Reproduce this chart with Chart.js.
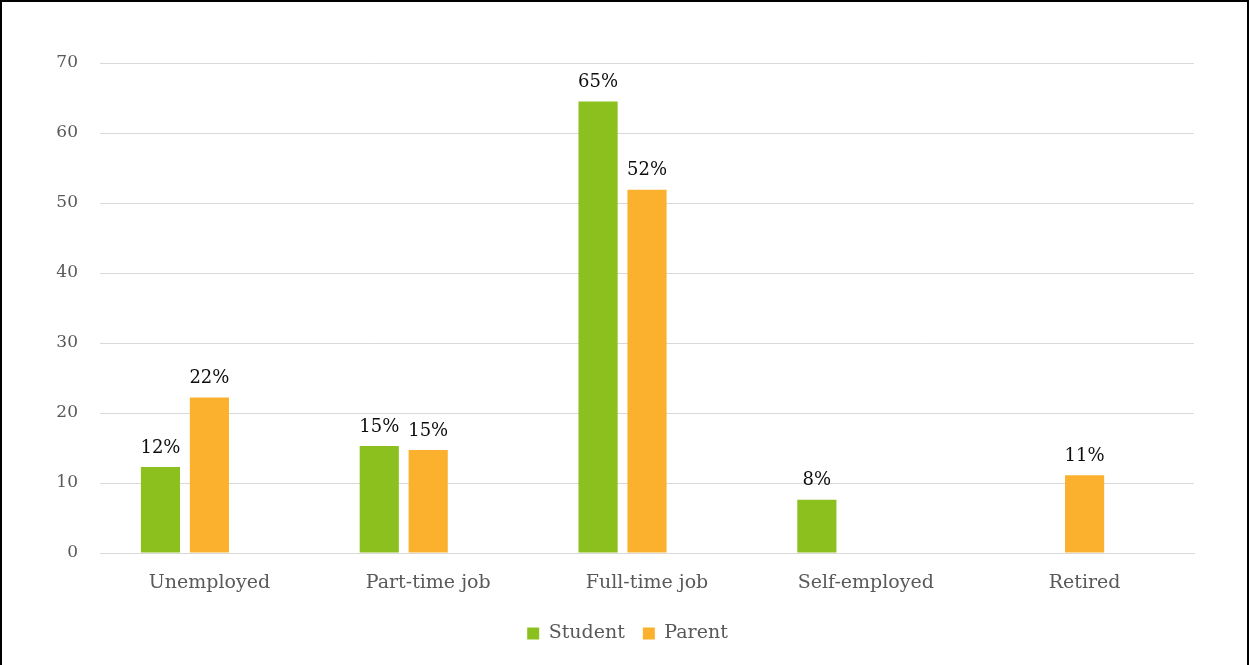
<!DOCTYPE html>
<html>
<head>
<meta charset="utf-8">
<script src="https://cdn.jsdelivr.net/npm/chart.js@4.4.0/dist/chart.umd.min.js"></script>
<style>
  body { margin: 0; background: #fff; }
  #wrap { position: relative; width: 1249px; height: 665px; }
  #frame { position: absolute; left: 0; top: 0; width: 1245px; height: 670px; border: 2px solid #000; pointer-events: none; }
</style>
</head>
<body>
<div id="wrap">
  <canvas id="chart" width="1249" height="665"></canvas>
  <div id="frame"></div>
</div>
<script>
const categories = ["Unemployed", "Part-time job", "Full-time job", "Self-employed", "Retired"];
const studentValues = [12.3, 15.3, 64.5, 7.6, null];
const parentValues = [22.2, 14.7, 51.9, null, 11.1];
const studentLabels = ["12%", "15%", "65%", "8%", ""];
const parentLabels = ["22%", "15%", "52%", "", "11%"];
// third slot is empty in every group (keeps bars off centre like the original)
const emptyValues = [null, null, null, null, null];
const yTicks = [0, 10, 20, 30, 40, 50, 60, 70];

const serif = "'DejaVu Serif', 'Liberation Serif', serif";

// draw the percentage above each bar
const barLabels = {
    id: "barLabels",
    afterDatasetsDraw(chart) {
        const ctx = chart.ctx;
        const texts = [studentLabels, parentLabels];
        ctx.save();
        ctx.font = "18px " + serif;
        ctx.fillStyle = "#0d0d0d";
        ctx.textAlign = "center";
        ctx.textBaseline = "bottom";
        [0, 1].forEach(di => {
            chart.getDatasetMeta(di).data.forEach((bar, i) => {
                if (!texts[di][i]) return;
                ctx.fillText(texts[di][i], bar.x, bar.y - 10);
            });
        });
        ctx.restore();
    }
};

new Chart(document.getElementById("chart"), {
    type: "bar",
    data: {
        labels: categories,
        datasets: [
            { label: "Student", data: studentValues, backgroundColor: "#8cc01f", borderWidth: 0 },
            { label: "Parent", data: parentValues, backgroundColor: "#fbb12e", borderWidth: 0 },
            { label: "", data: emptyValues, backgroundColor: "#ffffff" }
        ]
    },
    options: {
        responsive: false,
        animation: false,
        categoryPercentage: 0.671,
        barPercentage: 0.8,
        layout: { padding: { top: 63, right: 0, bottom: 12, left: 6 } },
        scales: {
            x: {
                grid: { display: false },
                border: { display: true, color: "#d9d9d9", width: 1 },
                ticks: { color: "#595959", font: { family: serif, size: 19 }, padding: 11 },
                afterFit(s) { s.height = 53; }
            },
            y: {
                min: 0,
                max: 70,
                afterBuildTicks(s) { s.ticks = yTicks.map(v => ({ value: v })); },
                grid: { color: "#d9d9d9", drawTicks: false },
                border: { display: false },
                ticks: { color: "#595959", font: { family: serif, size: 17 }, padding: 22 },
                afterFit(s) { s.width = 94; }
            },
            // empty right-hand gutter, keeps the legend centred like the original
            gutter: {
                position: "right",
                min: 0,
                max: 70,
                grid: { display: false },
                border: { display: false },
                ticks: { display: false },
                afterFit(s) { s.width = 55; }
            }
        },
        plugins: {
            tooltip: { enabled: false },
            legend: {
                position: "bottom",
                labels: {
                    boxWidth: 12,
                    boxHeight: 12,
                    color: "#595959",
                    font: { family: serif, size: 19 },
                    padding: 18,
                    filter: item => item.text !== ""
                }
            }
        }
    },
    plugins: [barLabels]
});
</script>
</body>
</html>
